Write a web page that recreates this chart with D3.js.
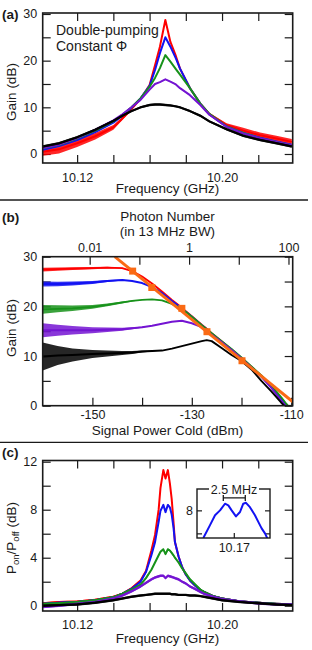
<!DOCTYPE html>
<html>
<head>
<meta charset="utf-8">
<script src="https://cdn.jsdelivr.net/npm/d3@7"></script>
<style>
  body { margin: 0; background: #fff; }
  svg text { font-family: "Liberation Sans", Arial, sans-serif; fill: #1a1a1a; }
</style>
</head>
<body>
<svg id="fig" width="312" height="650"></svg>
<script>
// ---- data ----
const seriesColors = ["#ff0000", "#1212f2", "#17921a", "#7414d2", "#000000"]; // red, blue, green, purple, black

// (a) gain vs frequency
const freqA = [10.101, 10.11, 10.12, 10.13, 10.14, 10.145, 10.15, 10.155, 10.16, 10.163, 10.1657, 10.1687,
  10.1715, 10.1745, 10.1768, 10.1823, 10.188, 10.193, 10.2025, 10.2117, 10.221, 10.23, 10.2385];
const redA    = [0.5, 1.0, 2.3, 3.8, 5.7, 7.6, 9.6, 11.8, 14.8, 19.0, 23.0, 28.7, 24.0, 21.0, 18.3, 14.1, 10.8, 8.6, 6.2, 5.0, 4.0, 3.3, 2.6];
const blueA   = [0.9, 1.7, 3.0, 4.7, 6.7, 8.2, 9.9, 11.9, 14.6, 18.0, 21.6, 25.0, 23.0, 20.5, 18.3, 14.1, 10.8, 8.5, 5.9, 4.5, 3.5, 2.7, 2.0];
const greenA  = [1.2, 1.9, 3.3, 5.0, 7.0, 8.4, 10.0, 11.9, 14.4, 16.3, 18.4, 21.2, 19.8, 18.2, 17.0, 14.1, 10.8, 8.6, 5.9, 4.5, 3.4, 2.6, 1.9];
const purpleA = [1.3, 2.0, 3.4, 5.2, 7.2, 8.5, 10.0, 11.6, 13.8, 15.0, 15.4, 16.0, 15.5, 14.9, 14.1, 12.6, 10.5, 8.4, 5.8, 4.4, 3.4, 2.6, 1.9];
const blackA  = [1.6, 2.3, 3.6, 5.2, 7.1, 8.2, 9.2, 10.0, 10.5, 10.6, 10.6, 10.5, 10.4, 10.2, 10.0, 9.2, 8.2, 7.0, 5.3, 3.9, 3.0, 2.3, 1.6];
const noiseRedA = [0.9, 0.9, 0.8, 0.7, 0.5, 0.3, 0.2, 0.1, 0.1, 0.1, 0.1, 0.1, 0.1, 0.1, 0.1, 0.1, 0.1, 0.2, 0.4, 0.6, 0.6, 0.6, 0.6];
const freqTicks = [10.12, 10.14, 10.16, 10.18, 10.20, 10.22];
const freqLabels = [10.12, 10.20];

// (b) gain vs signal power
const powerB = [-160, -157, -154, -150, -147, -144, -142, -140, -138, -136, -134, -132, -130, -128, -127, -126,
  -124, -122, -120, -118, -116, -114, -112, -111, -110];
const redB    = [27.4, 27.5, 27.6, 27.7, 27.8, 27.7, 27.1, 26.0, 24.6, 23.0, 21.3, 19.7, 18.0, 16.3, 15.5, 14.6, 13.0, 11.3, 9.6, 7.8, 6.0, 3.9, 1.4, 0.2, -1.0];
const blueB   = [24.5, 24.5, 24.6, 24.8, 25.1, 25.3, 25.1, 24.7, 23.9, 22.7, 21.1, 19.6, 17.9, 16.2, 15.4, 14.5, 12.9, 11.2, 9.5, 7.7, 5.9, 3.8, 1.3, 0.1, -1.0];
const greenB  = [19.4, 19.5, 19.6, 19.9, 20.3, 20.8, 21.1, 21.3, 21.4, 21.2, 20.5, 19.5, 17.9, 16.2, 15.4, 14.6, 13.0, 11.4, 9.7, 7.9, 6.1, 4.1, 1.7, 0.4, -0.8];
const purpleB = [15.2, 15.2, 15.2, 15.2, 15.3, 15.4, 15.6, 15.8, 16.1, 16.5, 16.9, 17.1, 16.6, 15.8, 15.0, 14.3, 12.8, 11.2, 9.5, 7.7, 5.8, 3.6, 1.0, -0.2, -1.5];
const blackB  = [9.9, 10.1, 10.2, 10.4, 10.5, 10.6, 10.7, 10.9, 11.0, 11.1, 11.5, 12.0, 12.5, 13.0, 13.2, 13.0, 11.6, 10.2, 9.0, 7.3, 5.0, 2.9, 0.6, -0.4, -1.5];
const noiseRedB    = [0.4, 0.35, 0.3, 0.25, 0.2, 0.1, 0, 0, 0, 0, 0, 0, 0, 0, 0, 0, 0, 0, 0, 0, 0, 0, 0, 0, 0];
const noiseBlueB   = [0.5, 0.45, 0.4, 0.3, 0.2, 0.1, 0, 0, 0, 0, 0, 0, 0, 0, 0, 0, 0, 0, 0, 0, 0, 0, 0, 0, 0];
const noiseGreenB  = [0.9, 0.7, 0.55, 0.4, 0.3, 0.2, 0.1, 0, 0, 0, 0, 0, 0, 0, 0, 0, 0, 0, 0, 0, 0, 0, 0, 0, 0];
const noisePurpleB = [1.4, 1.1, 0.85, 0.6, 0.45, 0.3, 0.2, 0.1, 0, 0, 0, 0, 0, 0, 0, 0, 0, 0, 0, 0, 0, 0, 0, 0, 0];
const noiseBlackB  = [2.8, 1.9, 1.3, 0.8, 0.6, 0.4, 0.3, 0.2, 0.1, 0, 0, 0, 0, 0, 0, 0, 0, 0, 0, 0, 0, 0, 0, 0, 0];
const fitLineP = [-145.5, -109.7];
const fitLineG = [30.0, 0.8];
const compressP = [-141.9, -138.05, -132.0, -126.95, -119.9];
const compressG = [27.1, 23.8, 19.6, 14.9, 9.05];
const onePhotonPower = -130.55;           // dBm that equals 1 photon in 13 MHz
const photonTicks = [0.01, 0.1, 1, 10, 100];
const photonLabels = [0.01, 1, 100];
const powerTicks = [-150, -140, -130, -120, -110];
const powerLabels = [-150, -130, -110];

// (c) P_on/P_off vs frequency
const freqC = [10.101, 10.11, 10.12, 10.13, 10.14, 10.145, 10.15, 10.155, 10.158, 10.161, 10.163, 10.165, 10.166,
  10.1676, 10.1688, 10.1701, 10.1712, 10.1722, 10.1732, 10.174, 10.176, 10.178, 10.18, 10.1823, 10.185, 10.188,
  10.19, 10.195, 10.20, 10.21, 10.22, 10.23, 10.239];
const redC    = [0.2, 0.3, 0.35, 0.5, 0.75, 1.0, 1.45, 2.1, 2.9, 4.6, 5.9, 8.0, 9.8, 11.3, 10.6, 11.3, 10.2, 8.9, 7.0, 5.3, 4.1, 3.2, 2.6, 2.1, 1.7, 1.3, 1.15, 0.8, 0.6, 0.35, 0.25, 0.15, 0.1];
const blueC   = [0.15, 0.25, 0.3, 0.45, 0.7, 1.0, 1.4, 2.0, 2.8, 4.2, 5.3, 7.0, 7.9, 8.4, 7.8, 8.4, 8.2, 7.6, 6.5, 5.3, 4.1, 3.2, 2.6, 2.1, 1.7, 1.3, 1.15, 0.8, 0.6, 0.35, 0.25, 0.15, 0.1];
const greenC  = [0.15, 0.2, 0.3, 0.45, 0.7, 1.0, 1.35, 1.75, 2.3, 3.0, 3.6, 4.2, 4.5, 4.7, 4.3, 4.7, 4.6, 4.4, 4.2, 4.0, 3.6, 3.1, 2.7, 2.2, 1.8, 1.35, 1.15, 0.8, 0.6, 0.35, 0.25, 0.15, 0.1];
const purpleC = [-0.1, 0.0, 0.15, 0.3, 0.6, 0.85, 1.2, 1.6, 1.9, 2.2, 2.35, 2.45, 2.5, 2.5, 2.3, 2.5, 2.45, 2.4, 2.35, 2.3, 2.2, 2.0, 1.85, 1.6, 1.4, 1.15, 1.0, 0.75, 0.55, 0.35, 0.2, 0.1, 0.1];
const blackC  = [0.0, 0.05, 0.1, 0.25, 0.45, 0.6, 0.75, 0.85, 0.9, 0.95, 1.0, 1.0, 1.0, 1.0, 1.0, 1.0, 1.0, 0.95, 0.95, 0.95, 0.9, 0.9, 0.9, 0.85, 0.85, 0.8, 0.75, 0.6, 0.45, 0.3, 0.2, 0.1, 0.05];

// (c) inset, blue trace
const insetF = [10.16648, 10.16724, 10.16781, 10.16838, 10.16894, 10.16932, 10.1697, 10.17019, 10.17065,
  10.17102, 10.17133, 10.17178, 10.17235, 10.17273, 10.17311, 10.17349, 10.17375];
const insetG = [6.82, 7.38, 7.81, 8.02, 8.31, 8.24, 8.02, 7.76, 7.95, 8.31, 8.35, 8.16, 7.81, 7.52, 7.24, 7.02, 6.81];
const splitting = [10.16875, 10.17125];   // 2.5 MHz bracket

// ---- drawing ----
const svg = d3.select("#fig");
const TICK = 8;
const INK = "#1a1a1a";

function drawSeries(g, xs, ys, noise, x, y, color, width) {
  const pts = xs.map((d, i) => [d, ys[i], typeof noise === "number" ? noise : noise[i]]);
  // measurement noise as a band behind the trace
  g.append("path").datum(pts)
    .attr("fill", color).attr("fill-opacity", 0.85)
    .attr("d", d3.area().x(d => x(d[0])).y0(d => y(d[1] - d[2])).y1(d => y(d[1] + d[2])));
  g.append("path").datum(pts)
    .attr("fill", "none").attr("stroke", color).attr("stroke-width", width)
    .attr("stroke-linejoin", "round")
    .attr("d", d3.line().x(d => x(d[0])).y(d => y(d[1])));
}

function labelFmt(labels, fmt) {
  return d => labels.some(l => Math.abs(l - d) < 1e-9) ? fmt(d) : "";
}

// frame with inward ticks on all four sides
function frame(id, x, y, xt, xl, xfmt, yt, yl, opts) {
  const [x0, x1] = x.range(), [y1, y0] = y.range();
  const g = svg.append("g");
  svg.append("clipPath").attr("id", id).append("rect")
    .attr("x", x0).attr("y", y0).attr("width", x1 - x0).attr("height", y1 - y0);

  const bottom = g.append("g").attr("transform", `translate(0,${y1})`)
    .call(d3.axisBottom(x).tickValues(xt).tickSize(-TICK).tickFormat(labelFmt(xl, xfmt)));
  bottom.selectAll("text").attr("y", opts.xLabelDy).attr("dy", 0).style("font-size", "12.5px");

  const left = g.append("g").attr("transform", `translate(${x0},0)`)
    .call(d3.axisLeft(y).tickValues(yt).tickSize(-TICK).tickPadding(5.5).tickFormat(labelFmt(yl, String)));
  left.selectAll("text").style("font-size", "12.5px");

  if (opts.mirrorTop !== false) {
    g.append("g").attr("transform", `translate(0,${y0})`)
      .call(d3.axisTop(x).tickValues(xt).tickSize(-TICK).tickFormat(""));
  }
  g.append("g").attr("transform", `translate(${x1},0)`)
    .call(d3.axisRight(y).tickValues(yt).tickSize(-TICK).tickFormat(""));

  g.selectAll(".domain").remove();
  g.selectAll(".tick line").attr("stroke", INK).attr("stroke-width", 1.2);
  g.selectAll(".tick text").attr("fill", INK);
  return g;
}

function border(x, y) {
  const [x0, x1] = x.range(), [y1, y0] = y.range();
  svg.append("rect").attr("x", x0).attr("y", y0).attr("width", x1 - x0).attr("height", y1 - y0)
    .attr("fill", "none").attr("stroke", INK).attr("stroke-width", 1.6);
}

function text(s, x, y, size, opts = {}) {
  const t = svg.append("text").attr("x", x).attr("y", y).style("font-size", size + "px")
    .attr("text-anchor", opts.anchor || "start");
  if (opts.bold) t.style("font-weight", "bold");
  if (opts.rotate) t.attr("transform", `rotate(-90,${x},${y})`);
  t.text(s);
  return t;
}

// ---------- panel (a) ----------
const xA = d3.scaleLinear().domain([10.101, 10.239]).range([42.7, 292.7]);
const yA = d3.scaleLinear().domain([-1.93, 30.21]).range([163, 13]);
frame("clipA", xA, yA, freqTicks, freqLabels, d3.format(".2f"), d3.range(0, 31, 5), [0, 10, 20, 30], { xLabelDy: 18.5 });
const gA = svg.append("g").attr("clip-path", "url(#clipA)");
const seriesA = [redA, blueA, greenA, purpleA, blackA];
const noiseA = [noiseRedA, 0.08, 0.08, 0.1, 0.25];
seriesA.forEach((s, i) => drawSeries(gA, freqA, s, noiseA[i], xA, yA, seriesColors[i], 2));
border(xA, yA);
text("(a)", 2, 18.5, 13.5, { bold: true });
text("Double-pumping", 56, 35, 14);
text("Constant \u03A6", 56, 50.5, 14);
text("Gain (dB)", 15.5, 92, 13.5, { anchor: "middle", rotate: true });
text("Frequency (GHz)", 167.5, 193, 13.5, { anchor: "middle" });

svg.append("line").attr("x1", 0).attr("x2", 308).attr("y1", 200).attr("y2", 200)
  .attr("stroke", INK).attr("stroke-width", 1.3);

// ---------- panel (b) ----------
const xB = d3.scaleLinear().domain([-160, -109.7]).range([42.7, 292.7]);
const yB = d3.scaleLinear().domain([0, 30]).range([405.7, 256.7]);
const toPhotons = p => Math.pow(10, (p - onePhotonPower) / 10);
const xPhot = d3.scaleLog().domain(xB.domain().map(toPhotons)).range(xB.range());
frame("clipB", xB, yB, powerTicks, powerLabels, String, d3.range(0, 31, 5), [0, 10, 20, 30],
  { xLabelDy: 13.8, mirrorTop: false });
const topAx = svg.append("g").attr("transform", `translate(0,${yB.range()[1]})`)
  .call(d3.axisTop(xPhot).tickValues(photonTicks).tickSize(-TICK).tickPadding(5)
    .tickFormat(d => photonLabels.includes(d) ? String(d) : ""));
topAx.select(".domain").remove();
topAx.selectAll(".tick line").attr("stroke", INK).attr("stroke-width", 1.2);
topAx.selectAll("text").style("font-size", "12.5px").attr("fill", INK);

const gB = svg.append("g").attr("clip-path", "url(#clipB)");
const seriesB = [redB, blueB, greenB, purpleB, blackB];
const noiseB = [noiseRedB, noiseBlueB, noiseGreenB, noisePurpleB, noiseBlackB];
seriesB.forEach((s, i) => drawSeries(gB, powerB, s, noiseB[i], xB, yB, seriesColors[i], 1.9));
gB.append("path").datum(fitLineP.map((p, i) => [p, fitLineG[i]]))
  .attr("stroke", "#fa6a14").attr("stroke-width", 3).attr("fill", "none")
  .attr("d", d3.line().x(d => xB(d[0])).y(d => yB(d[1])));
gB.selectAll("rect.sq").data(compressP.map((p, i) => [p, compressG[i]])).join("rect")
  .attr("class", "sq").attr("width", 7).attr("height", 7)
  .attr("x", d => xB(d[0]) - 3.5).attr("y", d => yB(d[1]) - 3.5).attr("fill", "#fa6a14");
border(xB, yB);
text("(b)", 2, 222, 13.5, { bold: true });
text("Photon Number", 167.5, 221, 13.5, { anchor: "middle" });
text("(in 13 MHz BW)", 167.5, 235.5, 13.5, { anchor: "middle" });
text("Gain (dB)", 15.5, 328, 13.5, { anchor: "middle", rotate: true });
text("Signal Power Cold (dBm)", 167.5, 434.5, 13.5, { anchor: "middle" });

svg.append("line").attr("x1", 0).attr("x2", 308).attr("y1", 442.3).attr("y2", 442.3)
  .attr("stroke", INK).attr("stroke-width", 1.3);

// ---------- panel (c) ----------
const xC = d3.scaleLinear().domain([10.101, 10.239]).range([42.7, 292.7]);
const yC = d3.scaleLinear().domain([-0.44, 12.1]).range([611, 460.5]);
frame("clipC", xC, yC, freqTicks, freqLabels, d3.format(".2f"), d3.range(0, 13, 2), [0, 4, 8, 12], { xLabelDy: 17.5 });
const gC = svg.append("g").attr("clip-path", "url(#clipC)");
const seriesC = [redC, blueC, greenC, purpleC, blackC];
const noiseC = [0.09, 0.09, 0.09, 0.11, 0.1];
seriesC.forEach((s, i) => drawSeries(gC, freqC, s, noiseC[i], xC, yC, seriesColors[i], 2));
border(xC, yC);
text("(c)", 2, 457, 13.5, { bold: true });
const yTitle = text("", 15.5, 538, 13.5, { anchor: "middle", rotate: true });
yTitle.append("tspan").text("P");
yTitle.append("tspan").text("on").attr("dy", 3).style("font-size", "9.5px");
yTitle.append("tspan").text("/P").attr("dy", -3);
yTitle.append("tspan").text("off").attr("dy", 3).style("font-size", "9.5px");
yTitle.append("tspan").text(" (dB)").attr("dy", -3);
text("Frequency (GHz)", 167.5, 643, 13.5, { anchor: "middle" });

// inset
const xI = d3.scaleLinear().domain([10.16576, 10.17406]).range([197, 270]);
const yI = d3.scaleLinear().domain([6.82, 8.95]).range([538, 489]);
svg.append("rect").attr("x", 197).attr("y", 489).attr("width", 73).attr("height", 49).attr("fill", "#fff");
const gI = svg.append("g");
[[xI.range()[0], 1], [xI.range()[1], -1]].forEach(([xx, dir]) => {
  gI.selectAll(null).data([7, 8]).join("line")
    .attr("x1", xx).attr("x2", xx + dir * 5).attr("y1", d => yI(d)).attr("y2", d => yI(d))
    .attr("stroke", INK).attr("stroke-width", 1.2);
});
gI.append("line").attr("x1", xI(10.17)).attr("x2", xI(10.17)).attr("y1", 538).attr("y2", 533)
  .attr("stroke", INK).attr("stroke-width", 1.2);
svg.append("clipPath").attr("id", "clipI").append("rect").attr("x", 197).attr("y", 489).attr("width", 73).attr("height", 49);
gI.append("path").datum(insetF.map((f, i) => [f, insetG[i]]))
  .attr("clip-path", "url(#clipI)")
  .attr("fill", "none").attr("stroke", seriesColors[1]).attr("stroke-width", 2).attr("stroke-linejoin", "round")
  .attr("d", d3.line().x(d => xI(d[0])).y(d => yI(d[1])));
gI.append("rect").attr("x", 197).attr("y", 489).attr("width", 73).attr("height", 49)
  .attr("fill", "none").attr("stroke", INK).attr("stroke-width", 1.4);
// bracket for the splitting
const by = yI(8.56);
gI.append("path").attr("fill", "none").attr("stroke", INK).attr("stroke-width", 1.3)
  .attr("d", `M${xI(splitting[0])},${by - 3}V${by + 3}M${xI(splitting[0])},${by}H${xI(splitting[1])}M${xI(splitting[1])},${by - 3}V${by + 3}`);
gI.append("rect").attr("x", 209).attr("y", 484).attr("width", 50).attr("height", 10).attr("fill", "#fff");
text("2.5 MHz", 234, 493.5, 12.5, { anchor: "middle" });
text("8", 193, 515, 12.5, { anchor: "end" });
text("10.17", xI(10.17), 551.5, 12.5, { anchor: "middle" });
</script>
</body>
</html>
